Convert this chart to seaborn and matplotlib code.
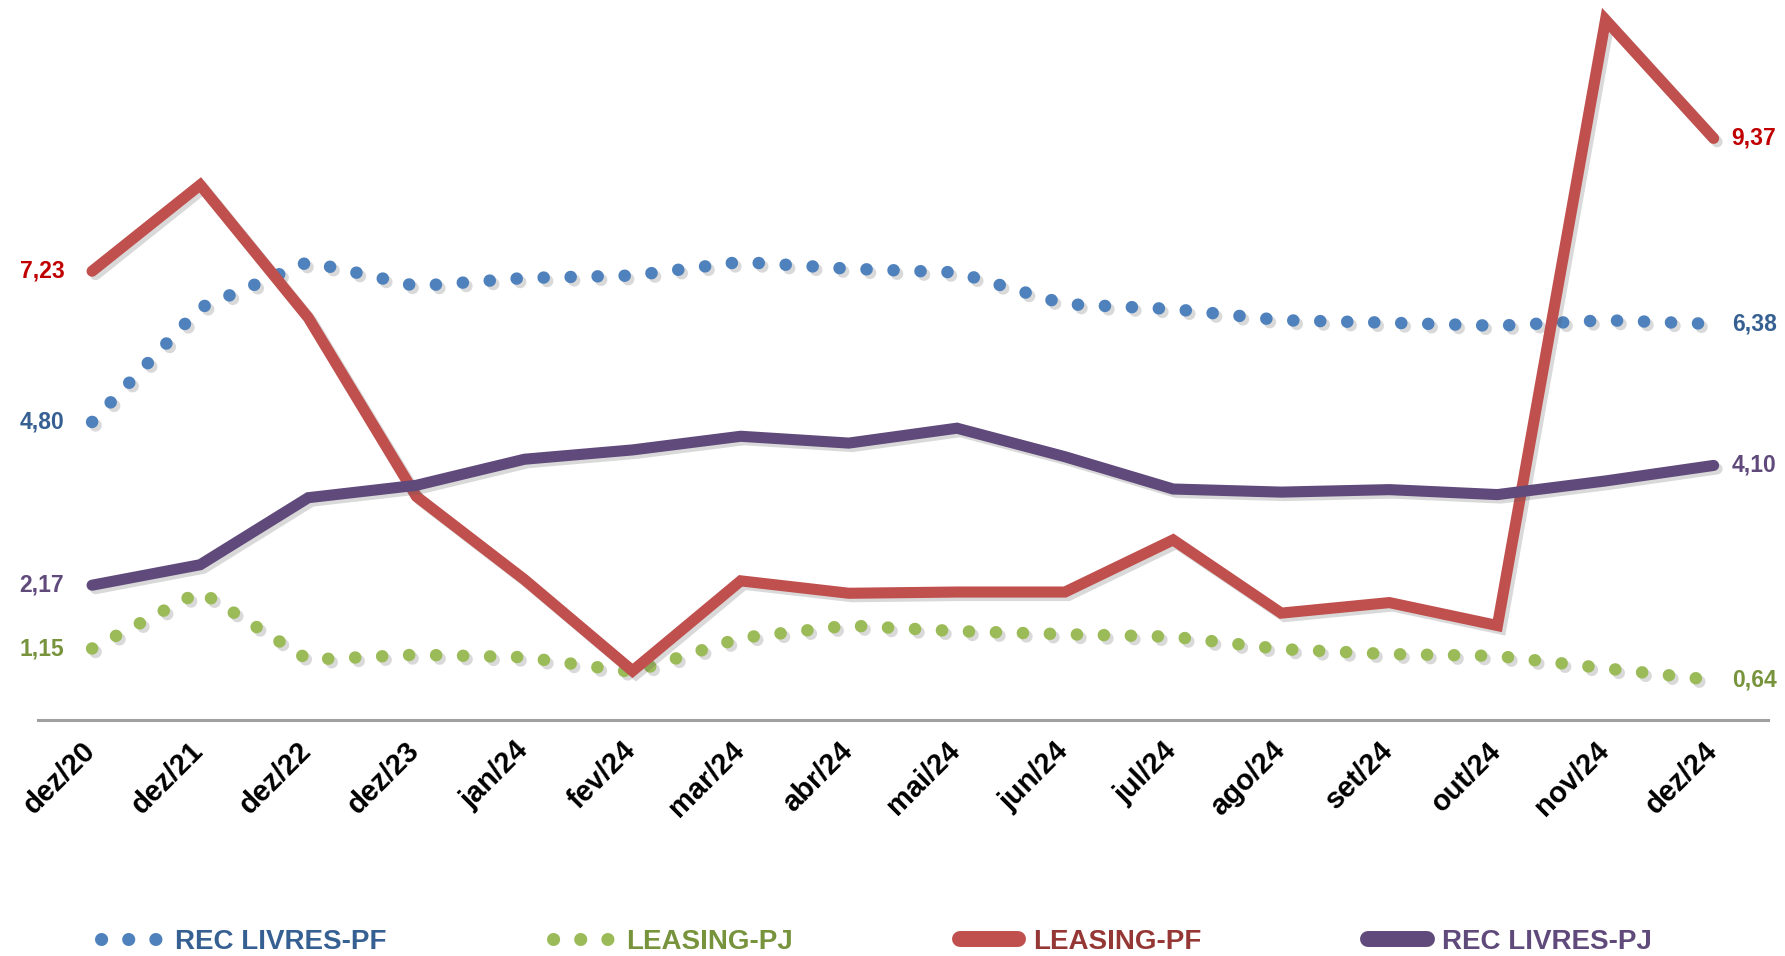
import pandas as pd
import matplotlib
matplotlib.use("Agg")
import matplotlib.pyplot as plt
import matplotlib.patheffects as pe
from matplotlib.lines import Line2D
from matplotlib.transforms import ScaledTranslation
import seaborn as sns

# Dados
meses = ['dez/20', 'dez/21', 'dez/22', 'dez/23', 'jan/24', 'fev/24', 'mar/24', 'abr/24',
         'mai/24', 'jun/24', 'jul/24', 'ago/24', 'set/24', 'out/24', 'nov/24', 'dez/24']
rec_livres_pf = [4.80, 6.64, 7.38, 6.99, 7.12, 7.16, 7.38, 7.27, 7.21, 6.70, 6.62, 6.44, 6.40, 6.35, 6.44, 6.38]
leasing_pj = [1.15, 2.07, 0.97, 1.05, 1.01, 0.77, 1.32, 1.52, 1.43, 1.38, 1.34, 1.14, 1.06, 1.03, 0.83, 0.64]
leasing_pf = [7.23, 8.62, 6.48, 3.60, 2.26, 0.79, 2.24, 2.04, 2.06, 2.06, 2.90, 1.72, 1.89, 1.52, 11.28, 9.37]
rec_livres_pj = [2.17, 2.50, 3.58, 3.78, 4.20, 4.35, 4.57, 4.46, 4.70, 4.24, 3.72, 3.67, 3.71, 3.63, 3.85, 4.10]

series = ['REC LIVRES-PF', 'LEASING-PJ', 'LEASING-PF', 'REC LIVRES-PJ']
valores = [rec_livres_pf, leasing_pj, leasing_pf, rec_livres_pj]
cores = ['#4F81BD', '#9BBB59', '#C0504D', '#604A7B']
cores_texto = ['#376092', '#77933C', '#C00000', '#604A7B']
cores_legenda = ['#376092', '#77933C', '#953735', '#604A7B']
pontilhado = [True, True, False, False]

dados = pd.DataFrame({'mes': meses})
for nome, v in zip(series, valores):
    dados[nome] = v

sns.set_style('white')
plt.rcParams['font.family'] = ['Liberation Sans', 'DejaVu Sans']

fig = plt.figure(figsize=(17.85, 9.56), dpi=100)
ax = fig.add_axes([0.0213, 0.247, 0.969, 0.753])

sombra = [pe.SimpleLineShadow(offset=(2.5, -2.5), alpha=0.22, shadow_color='#555555'), pe.Normal()]

for nome, cor, dot in zip(series, cores, pontilhado):
    if dot:
        sns.lineplot(data=dados, x='mes', y=nome, ax=ax, sort=False, color=cor,
                     linewidth=9, linestyle=(0, (0.01, 2.15)), dash_capstyle='round',
                     path_effects=sombra)
    else:
        sns.lineplot(data=dados, x='mes', y=nome, ax=ax, sort=False, color=cor,
                     linewidth=8, solid_capstyle='round', solid_joinstyle='miter',
                     path_effects=sombra)

# rótulos no primeiro e no último ponto
for v, cor in zip(valores, cores_texto):
    ax.annotate(f'{v[0]:.2f}'.replace('.', ','), xy=(0, v[0]), xytext=(-20, 0),
                textcoords='offset points', ha='right', va='center',
                fontsize=16.5, fontweight='bold', color=cor)
    ax.annotate(f'{v[-1]:.2f}'.replace('.', ','), xy=(len(meses) - 1, v[-1]), xytext=(13, 0),
                textcoords='offset points', ha='left', va='center',
                fontsize=16.5, fontweight='bold', color=cor)

ax.set_xlim(-0.5, len(meses) - 0.5)
ax.set_ylim(0, 11.6)
ax.set_xlabel('')
ax.set_ylabel('')
ax.set_yticks([])

for s in ['top', 'right', 'left']:
    ax.spines[s].set_visible(False)
ax.spines['bottom'].set_color('#A0A0A0')
ax.spines['bottom'].set_linewidth(2.2)

ax.set_xticks(range(len(meses)))
ax.set_xticklabels(meses, rotation=45, ha='right', va='center', rotation_mode='anchor',
                   fontsize=21, fontweight='bold', color='black')
ax.tick_params(axis='x', length=0, pad=19)
desloca = ScaledTranslation(-1 / 100, 0, fig.dpi_scale_trans)
for lbl in ax.get_xticklabels():
    lbl.set_transform(lbl.get_transform() + desloca)
ax.set_xticks([i - 0.5 for i in range(len(meses) + 1)], minor=True)
ax.tick_params(axis='x', which='minor', length=7, width=1.5, color='#A0A0A0', direction='out')

# legenda
handles = []
for cor, dot in zip(cores, pontilhado):
    if dot:
        handles.append(Line2D([], [], color=cor, linewidth=9.4, linestyle=(0, (0.01, 2.07)),
                              dash_capstyle='round'))
    else:
        handles.append(Line2D([], [], color=cor, linewidth=11.5, solid_capstyle='round'))
leg = fig.legend(handles, series, loc='center left', bbox_to_anchor=(0.0566, 0.0146), ncol=4,
                 frameon=False, handlelength=2.1, handletextpad=0.55, columnspacing=6.0,
                 borderpad=0, borderaxespad=0, prop={'size': 20, 'weight': 'bold'})
for t, c in zip(leg.get_texts(), cores_legenda):
    t.set_color(c)

fig.savefig('out.png', dpi=100)
